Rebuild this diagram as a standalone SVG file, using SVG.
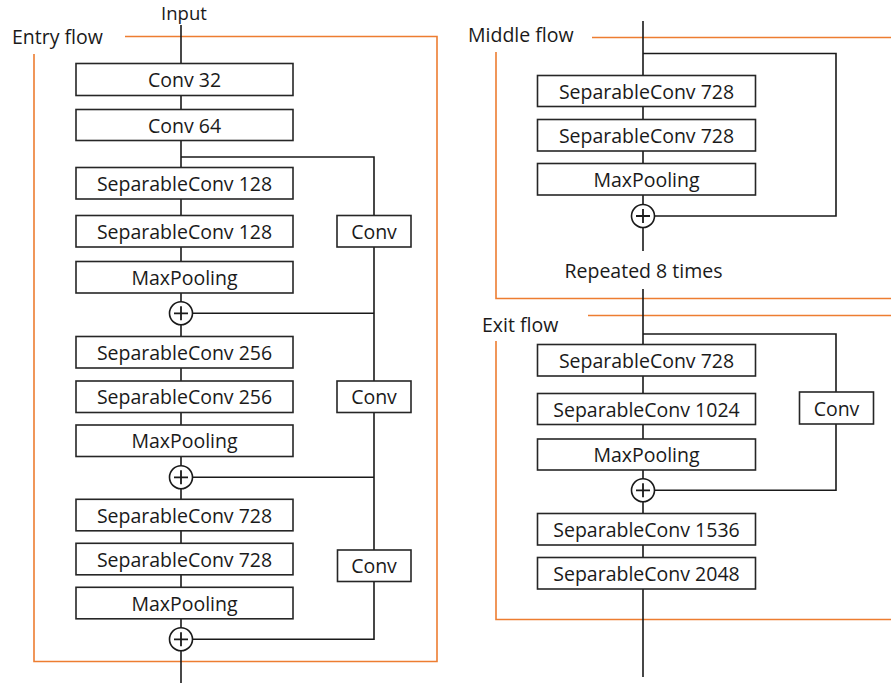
<svg xmlns="http://www.w3.org/2000/svg" width="891" height="688" viewBox="0 0 891 688">
  <style>
    .box { fill: #ffffff; stroke: #262626; stroke-width: 1.6; }
    .lbl { font-family: "Open Sans", "Noto Sans", sans-serif; font-size: 19.5px; fill: #1a1a1a; text-anchor: middle; }
    .title { font-family: "Open Sans", "Noto Sans", sans-serif; font-size: 19.5px; fill: #1a1a1a; }
    .wire { fill: none; stroke: #1a1a1a; stroke-width: 1.6; }
    .frame { fill: none; stroke: #ED7D31; stroke-width: 1.6; }
    .ring { fill: #ffffff; stroke: #1a1a1a; stroke-width: 1.6; }
    .cross { stroke: #1a1a1a; stroke-width: 1.8; fill: none; }
  </style>
  <rect width="891" height="688" fill="#ffffff"/>

  <!-- section frames -->
  <g id="frames">
    <path class="frame" d="M125 36.5H437V661.5H34V54"/>
    <path class="frame" d="M592 37.5H891M891 298.5H496V52"/>
    <path class="frame" d="M588 315.5H891M891 619.5H496V341"/>
  </g>

  <!-- connectors -->
  <g id="connectors">
    <path class="wire" d="M181 25V683"/>
    <path class="wire" d="M181 157H374V639.3H181M374 313.3H181M374 477.3H181"/>
    <path class="wire" d="M643 21V251M643 289V677"/>
    <path class="wire" d="M643 53.5H836V216H643"/>
    <path class="wire" d="M643 334H836V490.3H643"/>
  </g>

  <!-- section titles -->
  <g id="titles">
    <text class="lbl" x="184" y="20" style="font-size:18.5px">Input</text>
    <text class="title" x="12" y="43.5">Entry flow</text>
    <text class="title" x="468" y="42">Middle flow</text>
    <text class="lbl" x="643.5" y="277.5">Repeated 8 times</text>
    <text class="title" x="482" y="332">Exit flow</text>
  </g>

  <!-- entry flow -->
  <g id="e_conv32"><rect class="box" x="76" y="63.5" width="217" height="32"/><text class="lbl" x="184.5" y="86.5">Conv 32</text></g>
  <g id="e_conv64"><rect class="box" x="76" y="109.5" width="217" height="31"/><text class="lbl" x="184.5" y="132.5">Conv 64</text></g>
  <g id="e_sep128a"><rect class="box" x="76" y="167.5" width="217" height="31.5"/><text class="lbl" x="184.5" y="190.5">SeparableConv 128</text></g>
  <g id="e_sep128b"><rect class="box" x="76" y="215.5" width="217" height="31.5"/><text class="lbl" x="184.5" y="238.5">SeparableConv 128</text></g>
  <g id="e_pool1"><rect class="box" x="76" y="261.5" width="217" height="31.5"/><text class="lbl" x="184.5" y="284.5">MaxPooling</text></g>
  <g id="e_add1"><circle class="ring" cx="181" cy="313.3" r="11.5"/><path class="cross" d="M174 313.3H188M181 306.3V320.3"/></g>
  <g id="e_skip1"><rect class="box" x="337" y="215.5" width="74" height="31.5"/><text class="lbl" x="374" y="238.5">Conv</text></g>
  <g id="e_sep256a"><rect class="box" x="76" y="336.5" width="217" height="31.5"/><text class="lbl" x="184.5" y="359.5">SeparableConv 256</text></g>
  <g id="e_sep256b"><rect class="box" x="76" y="381" width="217" height="31.5"/><text class="lbl" x="184.5" y="404">SeparableConv 256</text></g>
  <g id="e_pool2"><rect class="box" x="76" y="425" width="217" height="31.5"/><text class="lbl" x="184.5" y="448">MaxPooling</text></g>
  <g id="e_add2"><circle class="ring" cx="181" cy="477.3" r="11.5"/><path class="cross" d="M174 477.3H188M181 470.3V484.3"/></g>
  <g id="e_skip2"><rect class="box" x="337" y="381" width="74" height="31.5"/><text class="lbl" x="374" y="404">Conv</text></g>
  <g id="e_sep728a"><rect class="box" x="76" y="499.3" width="217" height="31.5"/><text class="lbl" x="184.5" y="522.5">SeparableConv 728</text></g>
  <g id="e_sep728b"><rect class="box" x="76" y="543.3" width="217" height="31.5"/><text class="lbl" x="184.5" y="566.5">SeparableConv 728</text></g>
  <g id="e_pool3"><rect class="box" x="76" y="587.3" width="217" height="31.5"/><text class="lbl" x="184.5" y="610.5">MaxPooling</text></g>
  <g id="e_add3"><circle class="ring" cx="181" cy="639.3" r="11.5"/><path class="cross" d="M174 639.3H188M181 632.3V646.3"/></g>
  <g id="e_skip3"><rect class="box" x="337.5" y="550" width="73.5" height="31.5"/><text class="lbl" x="374" y="573">Conv</text></g>

  <!-- middle flow -->
  <g id="m_sep728a"><rect class="box" x="537.5" y="75.5" width="218" height="31"/><text class="lbl" x="646.5" y="98.5">SeparableConv 728</text></g>
  <g id="m_sep728b"><rect class="box" x="537.5" y="119.5" width="218" height="31.5"/><text class="lbl" x="646.5" y="142.5">SeparableConv 728</text></g>
  <g id="m_pool"><rect class="box" x="537.5" y="163.5" width="218" height="31.5"/><text class="lbl" x="646.5" y="186.5">MaxPooling</text></g>
  <g id="m_add"><circle class="ring" cx="643" cy="216" r="11.5"/><path class="cross" d="M636 216H650M643 209V223"/></g>

  <!-- exit flow -->
  <g id="x_sep728"><rect class="box" x="537.5" y="344.5" width="218" height="31.5"/><text class="lbl" x="646.5" y="367.5">SeparableConv 728</text></g>
  <g id="x_sep1024"><rect class="box" x="537.5" y="393.5" width="218" height="31"/><text class="lbl" x="646.5" y="416.5">SeparableConv 1024</text></g>
  <g id="x_pool"><rect class="box" x="537.5" y="439" width="218" height="31"/><text class="lbl" x="646.5" y="462">MaxPooling</text></g>
  <g id="x_add"><circle class="ring" cx="643" cy="490.3" r="11.5"/><path class="cross" d="M636 490.3H650M643 483.3V497.3"/></g>
  <g id="x_skip"><rect class="box" x="799.5" y="392" width="74" height="32"/><text class="lbl" x="836.5" y="415.5">Conv</text></g>
  <g id="x_sep1536"><rect class="box" x="537.5" y="513.5" width="218" height="31.5"/><text class="lbl" x="646.5" y="536.5">SeparableConv 1536</text></g>
  <g id="x_sep2048"><rect class="box" x="537.5" y="557.5" width="218" height="31.5"/><text class="lbl" x="646.5" y="580.5">SeparableConv 2048</text></g>
</svg>
